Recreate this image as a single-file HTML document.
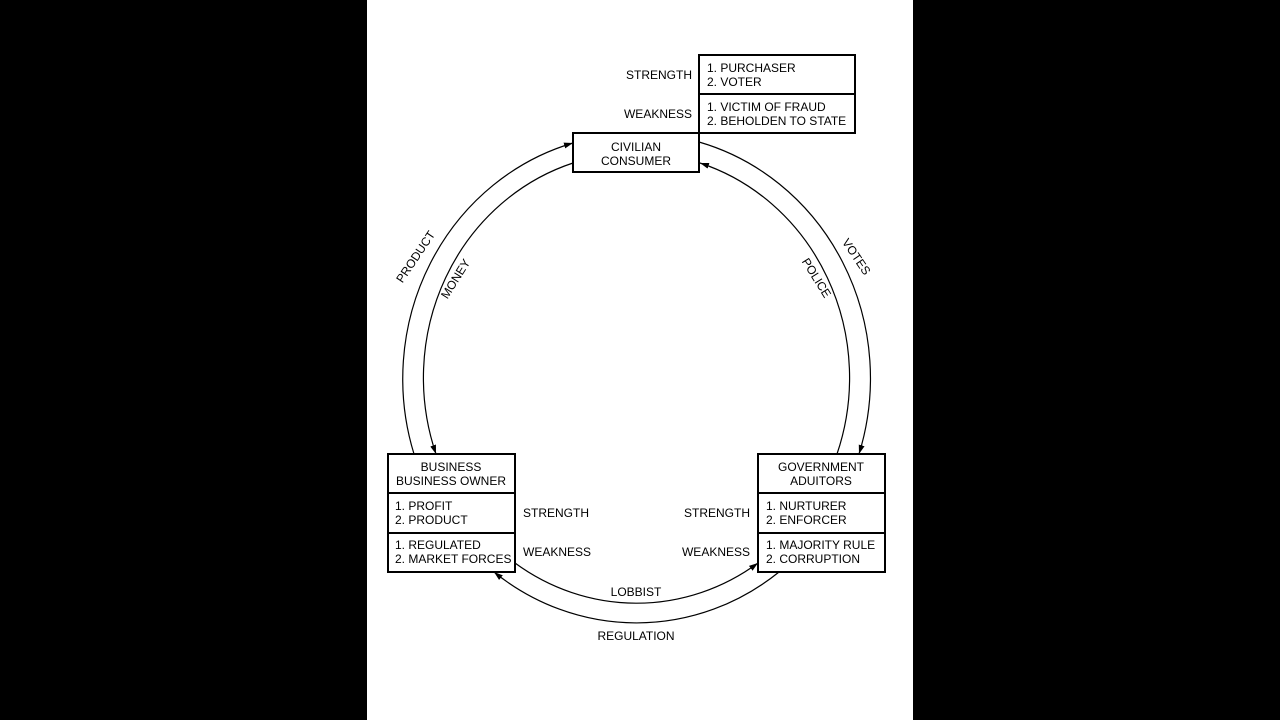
<!DOCTYPE html>
<html><head><meta charset="utf-8"><style>
html,body{margin:0;padding:0;background:#000;}
body{width:1280px;height:720px;position:relative;overflow:hidden;}
svg{position:absolute;left:0;top:0;}
text{font-family:"Liberation Sans",Arial,sans-serif;font-size:12px;fill:#000;}
</style></head><body>
<svg width="1280" height="720" viewBox="0 0 1280 720">
<defs>
<marker id="a" markerWidth="10" markerHeight="8" refX="9" refY="4" orient="auto" markerUnits="userSpaceOnUse">
<path d="M0,1 L9,4 L0,7 Z" fill="#000"/>
</marker>
</defs>
<rect x="367" y="0" width="546" height="720" fill="#fff"/>
<g fill="none" stroke="#000" stroke-width="1.2">
<path d="M414 454 A233.5 245 0 0 1 573 143" marker-end="url(#a)"/>
<path d="M573 163 A213 225 0 0 0 436 454" marker-end="url(#a)"/>
<path d="M699 142 A233.5 245 0 0 1 859 454" marker-end="url(#a)"/>
<path d="M837 454 A213 225 0 0 0 700 163" marker-end="url(#a)"/>
<path d="M515 563 A213 225 0 0 0 758 563" marker-end="url(#a)"/>
<path d="M779 572 A233.5 245 0 0 1 494 572" marker-end="url(#a)"/>
</g>
<g fill="#fff" stroke="#000" stroke-width="2">
<rect x="573" y="133" width="126" height="39"/>
<rect x="699" y="55" width="156" height="39"/>
<rect x="699" y="94" width="156" height="39"/>
<rect x="388" y="454" width="127" height="39"/>
<rect x="388" y="493" width="127" height="40"/>
<rect x="388" y="533" width="127" height="39"/>
<rect x="758" y="454" width="127" height="39"/>
<rect x="758" y="493" width="127" height="40"/>
<rect x="758" y="533" width="127" height="39"/>
</g>
<g text-anchor="middle">
<text x="636" y="151">CIVILIAN</text>
<text x="636" y="165">CONSUMER</text>
<text x="451" y="471">BUSINESS</text>
<text x="451" y="485">BUSINESS OWNER</text>
<text x="821" y="471">GOVERNMENT</text>
<text x="821" y="485">ADUITORS</text>
<text x="636" y="596">LOBBIST</text>
<text x="636" y="640">REGULATION</text>
</g>
<text x="707" y="72">1. PURCHASER</text>
<text x="707" y="86">2. VOTER</text>
<text x="707" y="111">1. VICTIM OF FRAUD</text>
<text x="707" y="125">2. BEHOLDEN TO STATE</text>
<text x="395" y="510">1. PROFIT</text>
<text x="395" y="524">2. PRODUCT</text>
<text x="395" y="549">1. REGULATED</text>
<text x="395" y="563">2. MARKET FORCES</text>
<text x="766" y="510">1. NURTURER</text>
<text x="766" y="524">2. ENFORCER</text>
<text x="766" y="549">1. MAJORITY RULE</text>
<text x="766" y="563">2. CORRUPTION</text>
<g text-anchor="end">
<text x="692" y="79">STRENGTH</text>
<text x="692" y="118">WEAKNESS</text>
<text x="750" y="517">STRENGTH</text>
<text x="750" y="556">WEAKNESS</text>
</g>
<text x="523" y="517">STRENGTH</text>
<text x="523" y="556">WEAKNESS</text>
<text transform="translate(419,259) rotate(-56)" text-anchor="middle">PRODUCT</text>
<text transform="translate(459,281) rotate(-58)" text-anchor="middle">MONEY</text>
<text transform="translate(853,259) rotate(56)" text-anchor="middle">VOTES</text>
<text transform="translate(813,280) rotate(58)" text-anchor="middle">POLICE</text>
</svg>
</body></html>
